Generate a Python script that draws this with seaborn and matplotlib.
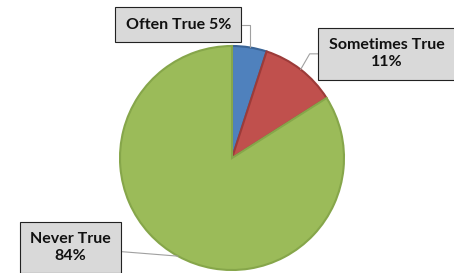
import numpy as np
import seaborn as sns
import matplotlib.pyplot as plt

categorias = ["Often True", "Sometimes True", "Never True"]
porcentajes = [5, 11, 84]
etiquetas = ["Often True 5%", "Sometimes True\n11%", "Never True\n84%"]

colores = ["#4F81BD", "#C0504D", "#9BBB59"]
bordes = ["#3A6496", "#9C3B39", "#86A64A"]

sns.set_theme(style="white")
plt.rcParams['font.family'] = ['Lato', 'DejaVu Sans']

fig = plt.figure(figsize=(4.54, 2.73), dpi=100)
ax = fig.add_axes([120 / 454, 3 / 273, 224 / 454, 224 / 273])

wedges, _ = ax.pie(porcentajes, colors=colores, startangle=90, counterclock=False,
                   wedgeprops=dict(linewidth=1.5))
for w, b in zip(wedges, bordes):
    w.set_edgecolor(b)

ax.set_xlim(-1, 1)
ax.set_ylim(-1, 1)
ax.set_aspect("equal")
ax.axis("off")

# centro de cada caja en coordenadas del pie
cajas = [(-0.48, 1.19), (1.38, 0.93), (-1.44, -0.8)]
conexiones = ["angle,angleA=0,angleB=90,rad=0",
              "angle,angleA=180,angleB=60,rad=0",
              "arc3"]

caja_estilo = dict(boxstyle="square,pad=0.65", fc="#D9D9D9", ec="#222222", lw=0.8)
for w, txt, pos, con in zip(wedges, etiquetas, cajas, conexiones):
    ang = np.deg2rad((w.theta1 + w.theta2) / 2)
    ancla = (np.cos(ang), np.sin(ang))
    ax.annotate(txt, xy=ancla, xytext=pos, ha="center", va="center",
                fontsize=11.5, fontweight="bold", color="#111111",
                linespacing=1.25, bbox=caja_estilo, annotation_clip=False,
                arrowprops=dict(arrowstyle="-", color="#A0A0A0", lw=0.8,
                                connectionstyle=con, shrinkA=0, shrinkB=0))

fig.savefig("out.png", dpi=100)
